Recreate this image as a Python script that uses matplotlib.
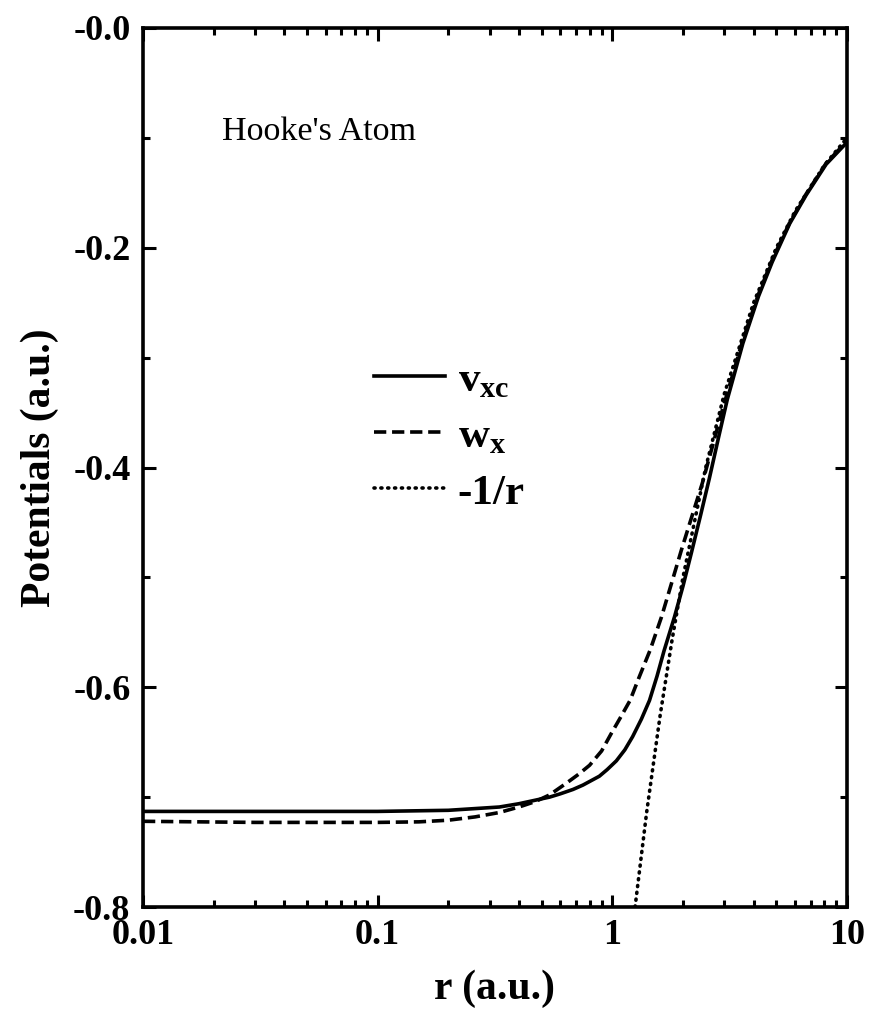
import matplotlib
matplotlib.use('Agg')
from matplotlib import pyplot as plt
from matplotlib.ticker import FixedLocator, FuncFormatter, LogLocator, NullFormatter

plt.rcParams['font.family'] = ['Liberation Serif', 'DejaVu Serif']
plt.rcParams['mathtext.fontset'] = 'custom'
plt.rcParams['mathtext.rm'] = 'Liberation Serif'
plt.rcParams['mathtext.bf'] = 'Liberation Serif:bold'

# values
r_vxc = [0.01, 0.05, 0.1, 0.2, 0.33, 0.4, 0.54, 0.6, 0.68, 0.75, 0.88,
         0.95, 1.04, 1.13, 1.22, 1.33, 1.44, 1.55, 1.66, 1.84, 2.0, 2.17,
         2.38, 2.59, 2.84, 3.09, 3.6, 4.2, 4.8, 5.7, 6.7, 8.15, 10]
vxc = [-0.713, -0.713, -0.713, -0.712, -0.709, -0.706, -0.700, -0.697,
       -0.693, -0.689, -0.681, -0.675, -0.667, -0.657, -0.645, -0.629,
       -0.612, -0.590, -0.567, -0.536, -0.508, -0.478, -0.443, -0.410,
       -0.372, -0.338, -0.287, -0.244, -0.213, -0.178, -0.152, -0.124,
       -0.104]

r_wx = [0.01, 0.03, 0.1, 0.15, 0.2, 0.26, 0.33, 0.4, 0.47, 0.54, 0.64,
        0.72, 0.80, 0.9, 0.99, 1.08, 1.19, 1.3, 1.45, 1.62, 1.75, 1.97,
        2.15, 2.42, 2.7, 2.94, 3.6, 4.2, 4.8, 5.7, 6.7, 8.15, 10]
wx = [-0.722, -0.723, -0.723, -0.7225, -0.721, -0.718, -0.714, -0.709,
      -0.704, -0.698, -0.687, -0.679, -0.671, -0.658, -0.642, -0.628,
      -0.612, -0.591, -0.566, -0.536, -0.512, -0.475, -0.449, -0.414,
      -0.377, -0.348, -0.284, -0.242, -0.211, -0.177, -0.151, -0.123,
      -0.103]

r_coul = [1.25, 1.4, 1.6, 1.8, 2.0, 2.5, 3.0, 4.0, 5.0, 6.0, 8.0, 10.0]
coul = [-0.8, -0.714, -0.625, -0.556, -0.5, -0.4, -0.333, -0.25, -0.2,
        -0.167, -0.125, -0.1]

x_ticks = [0.01, 0.1, 1, 10]
x_labels = ['0.01', '0.1', '1', '10']
y_ticks = [-0.8, -0.6, -0.4, -0.2, 0.0]

fig = plt.figure(figsize=(8.74, 10.25), dpi=100)
ax = fig.add_axes([143 / 874, 1 - 907 / 1025, 704 / 874, 879 / 1025])

lw = 2.6
ax.plot(r_vxc, vxc, color='black', lw=lw, label=r'$\mathbf{v}_{\mathbf{xc}}$')
ax.plot(r_wx, wx, color='black', lw=lw, dashes=(3.4, 1.6),
        label=r'$\mathbf{w}_{\mathbf{x}}$')
ax.plot(r_coul, coul, color='black', lw=lw, dashes=(0.3, 1.6),
        dash_capstyle='round', label='-1/r')

ax.set_xscale('log')
ax.set_xlim(0.01, 10)
ax.set_ylim(-0.8, 0.0)

ax.xaxis.set_major_locator(FixedLocator(x_ticks))
ax.xaxis.set_major_formatter(FuncFormatter(lambda v, p: x_labels[x_ticks.index(v)] if v in x_ticks else ''))
ax.xaxis.set_minor_locator(LogLocator(base=10, subs=range(2, 10)))
ax.xaxis.set_minor_formatter(NullFormatter())
ax.yaxis.set_major_locator(FixedLocator(y_ticks))
ax.yaxis.set_minor_locator(FixedLocator([-0.7, -0.5, -0.3, -0.1]))
ax.yaxis.set_major_formatter(FuncFormatter(lambda v, p: '-%.1f' % abs(v)))

ax.tick_params(which='both', direction='in', top=True, right=True, width=2.2)
ax.tick_params(which='major', length=9, labelsize=26, pad=9)
ax.tick_params(which='minor', length=5)
for lab in ax.get_xticklabels() + ax.get_yticklabels():
    lab.set_fontweight('bold')
for sp in ax.spines.values():
    sp.set_linewidth(2.6)

ax.set_xlabel('r (a.u.)', fontsize=30, fontweight='bold', labelpad=12)
ax.set_ylabel('Potentials (a.u.)', fontsize=30, fontweight='bold', labelpad=10)

ax.text(0.112, 0.873, "Hooke's Atom", transform=ax.transAxes, fontsize=24.5)

leg = ax.legend(loc='upper left', bbox_to_anchor=(0.297, 0.646), frameon=False,
                fontsize=31, handlelength=1.65, handletextpad=0.3,
                labelspacing=0.4, borderpad=0)
for t in leg.get_texts():
    t.set_fontweight('bold')

fig.savefig('out.png', dpi=100)
